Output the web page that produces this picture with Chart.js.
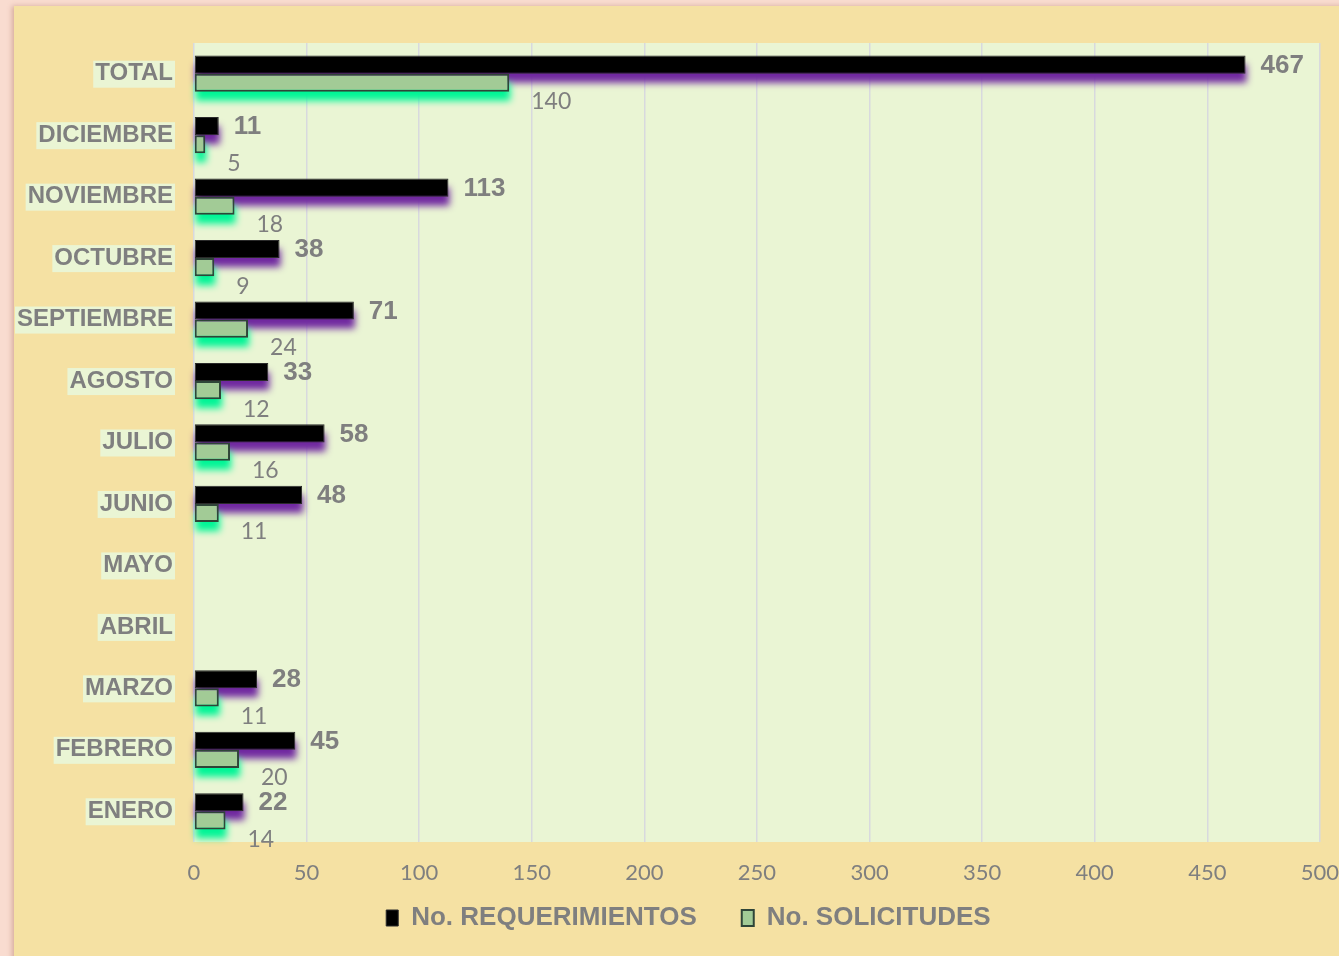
<!DOCTYPE html>
<html>
<head>
<meta charset="utf-8">
<script src="https://cdn.jsdelivr.net/npm/chart.js@4/dist/chart.umd.min.js"></script>
<style>
  html, body { margin: 0; padding: 0; background: #F9DCD0; }
  #wrap { width: 1339px; height: 956px; position: relative; }
</style>
</head>
<body>
<div id="wrap"><canvas id="c" width="1339" height="956"></canvas></div>
<script>
const categories = ['TOTAL','DICIEMBRE','NOVIEMBRE','OCTUBRE','SEPTIEMBRE','AGOSTO','JULIO','JUNIO','MAYO','ABRIL','MARZO','FEBRERO','ENERO'];
const requerimientos = [467, 11, 113, 38, 71, 33, 58, 48, null, null, 28, 45, 22];
const solicitudes = [140, 5, 18, 9, 24, 12, 16, 11, null, null, 11, 20, 14];
const xTickMin = 0, xTickMax = 500, xTickStep = 50;
const seriesNames = ['No. REQUERIMIENTOS', 'No. SOLICITUDES'];

const GRAY = '#7F7F7F';
const PLOT_BG = '#EAF5D4';
const CAT_FONT = 'bold 24px "Liberation Sans", Arial, sans-serif';

const panelPlugin = {
  id: 'panel',
  afterLayout(chart) {
    // place the legend under the axis the way the original does
    const lg = chart.legend;
    const a = chart.chartArea;
    lg.left = 57; lg.right = a.right;
    lg.top = a.bottom + 18;
    lg.bottom = lg.top + 90;
    lg.height = 90;
  },
  beforeDraw(chart) {
    const ctx = chart.ctx;
    ctx.save();
    ctx.fillStyle = '#F9DCD0';
    ctx.fillRect(0, 0, chart.width, chart.height);
    ctx.shadowColor = 'rgba(150,80,60,0.35)';
    ctx.shadowBlur = 5;
    ctx.shadowOffsetX = -2;
    ctx.fillStyle = '#F5E1A3';
    ctx.fillRect(14, 6, chart.width, chart.height);
    ctx.restore();
    const a = chart.chartArea;
    ctx.save();
    ctx.fillStyle = PLOT_BG;
    ctx.fillRect(a.left, a.top, a.right - a.left, a.bottom - a.top);
    const ys = chart.scales.y;
    ctx.font = CAT_FONT;
    const pad = ys.options.ticks.padding;
    ys.ticks.forEach((t, i) => {
      const w = ctx.measureText(categories[i]).width;
      const yc = ys.getPixelForTick(i);
      const xr = a.left - pad;
      ctx.fillRect(xr - w - 2, yc - 13, w + 4, 27);
    });
    ctx.restore();
  }
};

const shadowPlugin = {
  id: 'barShadows',
  beforeDatasetsDraw(chart) {
    const ctx = chart.ctx;
    const colors = ['rgba(112,40,160,1)', 'rgba(0,245,150,1)'];
    [0, 1].forEach(di => {
      const meta = chart.getDatasetMeta(di);
      meta.data.forEach((el, i) => {
        const v = chart.data.datasets[di].data[i];
        if (v == null) return;
        const p = el.getProps(['x', 'y', 'base', 'height'], true);
        const left = Math.min(p.x, p.base), w = Math.abs(p.x - p.base);
        const top = p.y - p.height / 2;
        ctx.save();
        ctx.shadowColor = colors[di];
        ctx.shadowBlur = 7;
        ctx.shadowOffsetX = 10000 + 1;
        ctx.shadowOffsetY = 9;
        ctx.fillStyle = '#000';
        ctx.fillRect(left - 10000, top, w, p.height);
        ctx.restore();
      });
    });
  }
};

const labelPlugin = {
  id: 'valueLabels',
  afterDatasetsDraw(chart) {
    const ctx = chart.ctx;
    ctx.save();
    ctx.textBaseline = 'middle';
    ctx.textAlign = 'left';
    ctx.fillStyle = GRAY;
    ctx.font = 'bold 26px "Liberation Sans", Arial, sans-serif';
    chart.getDatasetMeta(0).data.forEach((el, i) => {
      const v = requerimientos[i];
      if (v == null) return;
      const p = el.getProps(['x', 'y'], true);
      ctx.fillText(String(v), p.x + 15, p.y + 1);
    });
    ctx.font = '23px Lato, "Open Sans", sans-serif';
    chart.getDatasetMeta(1).data.forEach((el, i) => {
      const v = solicitudes[i];
      if (v == null) return;
      const p = el.getProps(['x', 'y'], true);
      ctx.fillText(String(v), p.x + 22, p.y + 19);
    });
    ctx.restore();
  }
};

const ctx = document.getElementById('c').getContext('2d');
new Chart(ctx, {
  type: 'bar',
  data: {
    labels: categories,
    datasets: [
      {
        label: seriesNames[0],
        data: requerimientos,
        backgroundColor: '#000000',
        borderColor: '#2a2a2a',
        borderWidth: 1,
        borderSkipped: false,
        categoryPercentage: 0.59,
        barPercentage: 1.0
      },
      {
        label: seriesNames[1],
        data: solicitudes,
        backgroundColor: '#A2CB96',
        borderColor: '#2F4538',
        borderWidth: 2,
        borderSkipped: false,
        categoryPercentage: 0.59,
        barPercentage: 1.0
      }
    ]
  },
  options: {
    indexAxis: 'y',
    responsive: false,
    animation: false,
    devicePixelRatio: 1,
    layout: { padding: { left: 0, right: 0, top: 43, bottom: 0 } },
    scales: {
      x: {
        min: xTickMin, max: xTickMax,
        ticks: { stepSize: xTickStep, color: GRAY, padding: 0,
                 font: { family: 'Lato, "Open Sans", sans-serif', size: 22 } },
        grid: { color: '#D8D9DE', lineWidth: 1.5, drawTicks: true, tickLength: 18, tickColor: 'rgba(0,0,0,0)' },
        border: { display: false },
        afterFit(s) { s.height = 54; }
      },
      y: {
        ticks: { color: GRAY, padding: 21,
                 font: { family: '"Liberation Sans", Arial, sans-serif', size: 24, weight: 'bold' } },
        grid: { display: false, drawTicks: false },
        border: { display: false },
        afterFit(s) { s.width = 194; }
      }
    },
    plugins: {
      tooltip: { enabled: false },
      legend: {
        position: 'bottom',
        maxHeight: 60,
        labels: {
          color: GRAY,
          padding: 45,
          boxWidth: 12,
          boxHeight: 16,
          font: { family: '"Liberation Sans", Arial, sans-serif', size: 26, weight: 'bold' }
        }
      }
    }
  },
  plugins: [panelPlugin, shadowPlugin, labelPlugin]
});
</script>
</body>
</html>
